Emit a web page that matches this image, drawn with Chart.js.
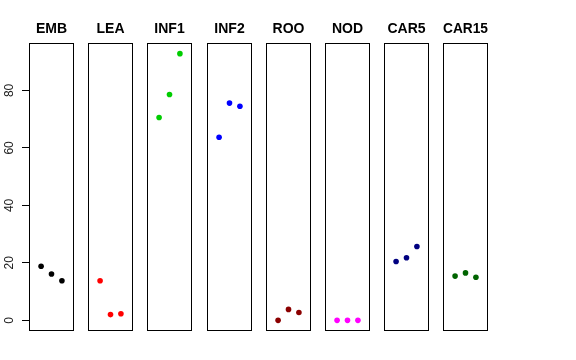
<!DOCTYPE html>
<html>
<head>
<meta charset="utf-8">
<script src="https://cdn.jsdelivr.net/npm/chart.js@4"></script>
<style>
  body { margin: 0; background: #fff; }
  #wrap { position: relative; width: 576px; height: 360px; overflow: hidden; }
  #wrap canvas { position: absolute; top: 0; }
</style>
</head>
<body>
<div id="wrap"></div>
<script>
// panel names and point colours
var categories = ['EMB', 'LEA', 'INF1', 'INF2', 'ROO', 'NOD', 'CAR5', 'CAR15'];
var colors = ['#000000', '#FF0000', '#00CD00', '#0000FF', '#8B0000', '#FF00FF', '#000080', '#006400'];

// three replicates per panel
var xs = [1, 2, 3];
var EMB = [18.8, 16.1, 13.8];
var LEA = [13.8, 2.0, 2.3];
var INF1 = [70.6, 78.6, 92.8];
var INF2 = [63.7, 75.6, 74.5];
var ROO = [0.0, 3.8, 2.7];
var NOD = [0.0, 0.0, 0.0];
var CAR5 = [20.5, 21.8, 25.7];
var CAR15 = [15.4, 16.5, 15.0];
var series = [EMB, LEA, INF1, INF2, ROO, NOD, CAR5, CAR15];

var yTicks = [0, 20, 40, 60, 80];

Chart.defaults.font.family = '"Liberation Sans", Arial, sans-serif';
Chart.defaults.color = '#000';

// y range like R: data range widened by 4%
var all = [].concat.apply([], series);
var lo = Math.min.apply(null, all), hi = Math.max.apply(null, all);
var yMin = lo - (hi - lo) * 0.04, yMax = hi + (hi - lo) * 0.04;
var xMin = 0 - 4 * 0.04, xMax = 4 + 4 * 0.04;

var boxPlugin = {
    id: 'box',
    afterDatasetsDraw: function (chart) {
        var a = chart.chartArea, ctx = chart.ctx;
        ctx.save();
        ctx.strokeStyle = '#000';
        ctx.lineWidth = 1;
        ctx.strokeRect(Math.round(a.left) + 0.5, Math.round(a.top) + 0.5,
            Math.round(a.right - a.left) - 1, Math.round(a.bottom - a.top) - 1);
        ctx.restore();
    }
};

// vertical tick labels on the left axis
var yLabelPlugin = {
    id: 'ylabels',
    afterDraw: function (chart) {
        var s = chart.scales.y, ctx = chart.ctx;
        ctx.save();
        ctx.font = '12px "Liberation Sans", Arial, sans-serif';
        ctx.fillStyle = '#222';
        ctx.textAlign = 'center';
        ctx.textBaseline = 'alphabetic';
        yTicks.forEach(function (v) {
            ctx.save();
            ctx.translate(13.3, s.getPixelForValue(v));
            ctx.rotate(-Math.PI / 2);
            ctx.fillText(String(v), 0, 0);
            ctx.restore();
        });
        ctx.restore();
    }
};

var wrap = document.getElementById('wrap');
var axisW = 29;
var panelW = 45;

categories.forEach(function (name, i) {
    var left = Math.round(29 + 59.2 * i);
    var first = i === 0;
    var canvas = document.createElement('canvas');
    var w = first ? axisW + panelW : panelW;
    canvas.width = w;
    canvas.height = 360;
    canvas.style.left = (first ? left - axisW : left) + 'px';
    canvas.style.width = w + 'px';
    canvas.style.height = '360px';
    wrap.appendChild(canvas);

    new Chart(canvas.getContext('2d'), {
        type: 'scatter',
        data: {
            datasets: [{
                data: xs.map(function (x, k) { return { x: x, y: series[i][k] }; }),
                backgroundColor: colors[i],
                borderColor: colors[i],
                pointRadius: 2.8,
                pointBorderWidth: 0
            }]
        },
        options: {
            responsive: false,
            animation: false,
            devicePixelRatio: 1,
            layout: { autoPadding: false, padding: { top: 0, bottom: 29, left: 0, right: 0 } },
            plugins: {
                legend: { display: false },
                tooltip: { enabled: false },
                title: {
                    display: true,
                    text: name,
                    fullSize: false,
                    font: { size: 14, weight: 'bold', lineHeight: 1 },
                    color: '#000',
                    padding: { top: 22.5, bottom: 6.5 }
                }
            },
            scales: {
                x: { type: 'linear', min: xMin, max: xMax, display: false },
                y: {
                    type: 'linear',
                    min: yMin,
                    max: yMax,
                    display: first,
                    afterBuildTicks: function (s) {
                        s.ticks = yTicks.map(function (v) { return { value: v }; });
                    },
                    afterFit: function (s) { if (first) s.width = axisW; },
                    ticks: { display: false },
                    grid: { drawOnChartArea: false, drawTicks: true, tickLength: 7, color: '#000' },
                    border: { display: false }
                }
            }
        },
        plugins: first ? [boxPlugin, yLabelPlugin] : [boxPlugin]
    });
});
</script>
</body>
</html>
